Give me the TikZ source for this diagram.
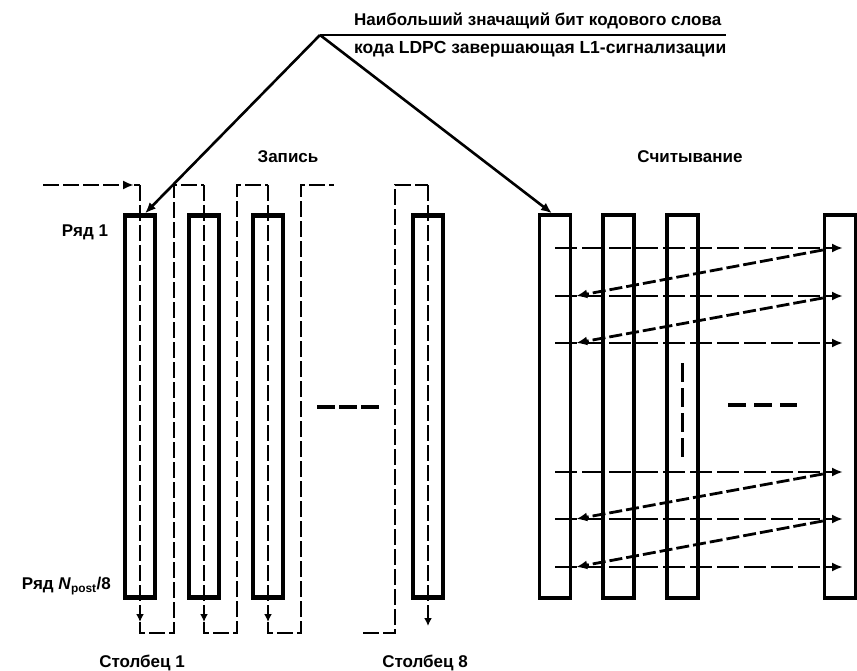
\documentclass[tikz,border=0pt]{standalone}
\usepackage{fontspec}
\setmainfont{Liberation Sans}
\usetikzlibrary{arrows.meta,calc}

\begin{document}
\begin{tikzpicture}[x=1pt, y=-1pt, every node/.style={font=\bfseries\fontsize{17}{19}\selectfont},
  wcol/.style={draw, line width=4.2pt, minimum width=30pt, minimum height=382pt, inner sep=0pt},
  rcol/.style={draw, line width=3.4pt, minimum width=31pt, minimum height=383pt, inner sep=0pt},
  flow/.style={line width=2.8pt, dash pattern=on 16pt off 4pt},
  rflow/.style={line width=2.8pt, dash pattern=on 22pt off 5pt},
  dflow/.style={line width=2.8pt, dash pattern=on 13pt off 4pt},
  arr/.style={-{Latex[length=11pt,width=9pt]}},
  darr/.style={-{Latex[length=8pt,width=8pt]}},
  lbl/.style={inner sep=0pt}]
\useasboundingbox (0,0) rectangle (857,671);
% Запись
\node[wcol] (w1) at (140,406.5) {};
\node[wcol] (w2) at (204,406.5) {};
\node[wcol] (w3) at (268,406.5) {};
\node[wcol] (w8) at (428,406.5) {};
\coordinate (start) at (43,185);
\coordinate (down) at (0,622);
\coordinate (low) at (0,633);
\draw[flow, arr] (start) -- ($(w1 |- start)+(-6,0)$);
\draw[flow] ($(w1 |- start)+(-6,0)$) -- (w1 |- start);
\draw[flow, darr] (w1 |- start) -- (w1 |- down);
\draw[flow] (w1 |- down) -- (w1 |- low) -| (174,185) -- (w2 |- start);
\draw[flow, darr] (w2 |- start) -- (w2 |- down);
\draw[flow] (w2 |- down) -- (w2 |- low) -| (237,185) -- (w3 |- start);
\draw[flow, darr] (w3 |- start) -- (w3 |- down);
\draw[flow] (w3 |- down) -- (w3 |- low) -| (301,185) -- (334,185);
\draw[flow] (363,633) -| (395,185) -- (w8 |- start);
\draw[flow, darr] (w8 |- start) -- ($(w8 |- down)+(0,4)$);
\draw[line width=3.5pt, dash pattern=on 18pt off 4pt] (317,407) -- (380,407);
\node[lbl] (write) at (288,157) {Запись};
\node[lbl] (row1) at (85,232) {Ряд 1};
\node[lbl, anchor=east] (rowN) at (111,586) {Ряд \textit{N}\textsubscript{post}/8};
\node[lbl] (col1) at (142,663) {Столбец 1};
\node[lbl] (col8) at (425,663) {Столбец 8};
% Считывание
\node[rcol] (r1) at (555,406.5) {};
\node[rcol] (r2) at (618.5,406.5) {};
\node[rcol] (r3) at (682.5,406.5) {};
\node[rcol] (r4) at (840,406.5) {};
\node[lbl] (read) at (690,157) {Считывание};
\coordinate (a1) at (555,248);
\coordinate (a2) at (555,296);
\coordinate (a3) at (555,343);
\coordinate (a4) at (555,472);
\coordinate (a5) at (555,519);
\coordinate (a6) at (555,567);
\draw[rflow, arr] (a1) -- ($(r4 |- a1)+(3,0)$);
\draw[rflow, arr] (a2) -- ($(r4 |- a2)+(3,0)$);
\draw[rflow, arr] (a3) -- ($(r4 |- a3)+(3,0)$);
\draw[rflow, arr] (a4) -- ($(r4 |- a4)+(3,0)$);
\draw[rflow, arr] (a5) -- ($(r4 |- a5)+(3,0)$);
\draw[rflow, arr] (a6) -- ($(r4 |- a6)+(3,0)$);
\draw[dflow, arr] ($(r4.west |- a1)+(0,2)$) -- ($(r1.east |- a2)+(4,0)$);
\draw[dflow, arr] ($(r4.west |- a2)+(0,2)$) -- ($(r1.east |- a3)+(4,0)$);
\draw[dflow, arr] ($(r4.west |- a4)+(0,2)$) -- ($(r1.east |- a5)+(4,0)$);
\draw[dflow, arr] ($(r4.west |- a5)+(0,2)$) -- ($(r1.east |- a6)+(4,0)$);
\draw[line width=3.2pt, dash pattern=on 19pt off 6pt] (r3 |- 0,363) -- (r3 |- 0,458);
\draw[line width=3.5pt, dash pattern=on 18pt off 8pt] (728,405) -- (797,405);
% MSB
\coordinate (apex) at (320,35);
\draw[line width=1.4pt] (apex) -- (726,35);
\node[lbl, anchor=west] (msb1) at (354,21) {Наибольший значащий бит кодового слова};
\node[lbl, anchor=west] (msb2) at (354,49) {\fontsize{17.5}{19}\selectfont кода LDPC завершающая L1-сигнализации};
\draw[line width=2.6pt, arr] (apex) -- ($(w1.north)+(5,0)$);
\draw[line width=2.6pt, arr] (apex) -- ($(r1.north)+(-3,0)$);
\end{tikzpicture}
\end{document}
